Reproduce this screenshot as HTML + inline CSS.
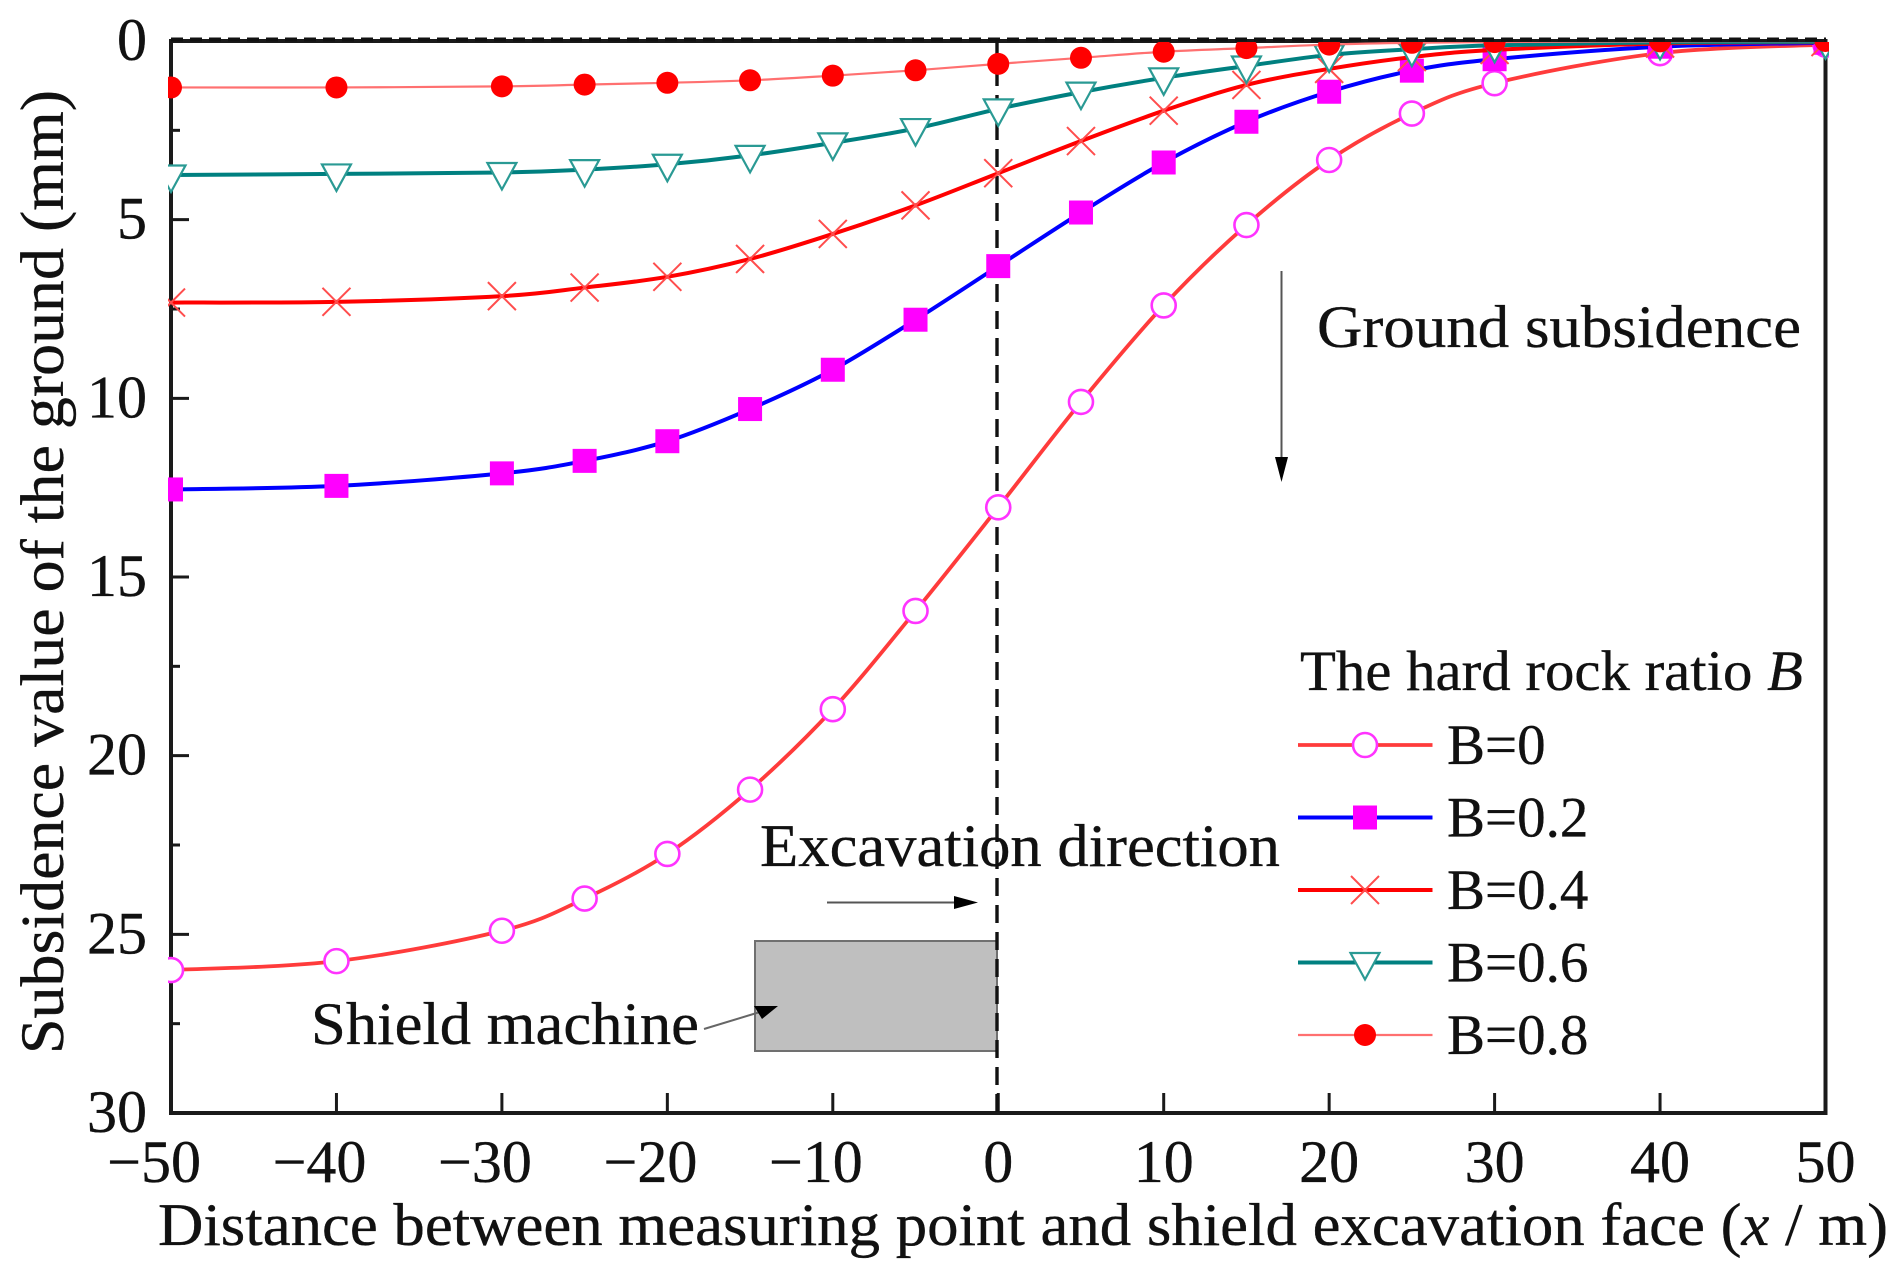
<!DOCTYPE html>
<html lang="en">
<head>
<meta charset="utf-8">
<title>Ground subsidence chart</title>
<style>
html,body{margin:0;padding:0;background:#fff;}
body{width:1897px;height:1277px;overflow:hidden;}
svg{display:block;}
text{font-family:"Liberation Serif",serif;fill:#111;stroke:#111;stroke-width:0.35px;}
</style>
</head>
<body>
<svg id="chart" xmlns="http://www.w3.org/2000/svg" width="1897" height="1277" viewBox="0 0 1897 1277">
  <defs>
    <clipPath id="plot-clip"><rect x="168" y="42" width="1661" height="1071"/></clipPath>
  </defs>
  <rect x="0" y="0" width="1897" height="1277" fill="#fff"/>
  <g id="axes"></g>
  <rect x="755" y="941" width="242" height="110" fill="#bfbfbf" stroke="#707070" stroke-width="2"/>
  <line x1="171" y1="39.5" x2="1826" y2="39.5" stroke="#111" stroke-width="4" stroke-dasharray="12 7"/>
  <line x1="997" y1="41" x2="997" y2="1113" stroke="#111" stroke-width="3.4" stroke-dasharray="18 9"/>
  <g id="series" clip-path="url(#plot-clip)"></g>
  <text transform="translate(63,1054) rotate(-90)" font-size="61" textLength="964" lengthAdjust="spacingAndGlyphs">Subsidence value of the ground (mm)</text>
  <text x="158" y="1245" font-size="60" textLength="1730" lengthAdjust="spacingAndGlyphs">Distance between measuring point and shield excavation face (<tspan font-style="italic">x</tspan> / m)</text>
  <text x="1317" y="347" font-size="60" textLength="484" lengthAdjust="spacingAndGlyphs">Ground subsidence</text>
  <line x1="1281.5" y1="271" x2="1281.5" y2="460" stroke="#555" stroke-width="2"/>
  <polygon points="1275,457 1288,457 1281.5,482" fill="#000"/>
  <text x="760" y="866" font-size="60" textLength="520" lengthAdjust="spacingAndGlyphs">Excavation direction</text>
  <line x1="827" y1="902.5" x2="960" y2="902.5" stroke="#555" stroke-width="2"/>
  <polygon points="954,896 978,902.5 954,909" fill="#000"/>
  <text x="311" y="1044" font-size="60" textLength="388" lengthAdjust="spacingAndGlyphs">Shield machine</text>
  <line x1="704" y1="1029" x2="760" y2="1012" stroke="#666" stroke-width="2"/>
  <polygon points="754,1006 778,1006 762,1019" fill="#000"/>
  <text x="1300" y="690" font-size="57" textLength="503" lengthAdjust="spacingAndGlyphs">The hard rock ratio <tspan font-style="italic">B</tspan></text>
  <g id="legend"></g>
</svg>
<script>
const distances = [-50,-40,-30,-25,-20,-15,-10,-5,0,5,10,15,20,25,30,40,50];
const seriesB0 = [26.0,25.75,24.9,24.0,22.75,20.95,18.7,15.95,13.05,10.1,7.4,5.15,3.33,2.03,1.18,0.34,0.1];
const seriesB02 = [12.55,12.45,12.1,11.75,11.2,10.3,9.2,7.8,6.3,4.8,3.4,2.26,1.42,0.83,0.51,0.16,0.05];
const seriesB04 = [7.32,7.3,7.14,6.9,6.6,6.1,5.4,4.6,3.7,2.8,1.95,1.23,0.78,0.45,0.25,0.07,0.03];
const seriesB06 = [3.75,3.72,3.68,3.6,3.45,3.2,2.85,2.45,1.9,1.43,1.03,0.7,0.39,0.23,0.12,0.04,0.02];
const seriesB08 = [1.3,1.3,1.27,1.22,1.17,1.1,0.97,0.82,0.64,0.47,0.3,0.2,0.1,0.05,0.03,0.01,0];
const seriesLabels = ['B=0','B=0.2','B=0.4','B=0.6','B=0.8'];
const xTicks = [-50,-40,-30,-20,-10,0,10,20,30,40,50];
const xTickLabels = ['\u221250','\u221240','\u221230','\u221220','\u221210','0','10','20','30','40','50'];
const yTicks = [0,5,10,15,20,25,30];
const yTickLabels = ['0','5','10','15','20','25','30'];
const yMinorTicks = [2.5,7.5,12.5,17.5,22.5,27.5];

const NS = 'http://www.w3.org/2000/svg';
const PLOT = {left:171, right:1825.5, top:41, bottom:1113, xMin:-50, xMax:50, yMin:0, yMax:30};
function xScale(v){ return PLOT.left + (v - PLOT.xMin) * (PLOT.right - PLOT.left) / (PLOT.xMax - PLOT.xMin); }
function yScale(v){ return PLOT.top + (v - PLOT.yMin) * (PLOT.bottom - PLOT.top) / (PLOT.yMax - PLOT.yMin); }
function make(tag, attrs, parent){
  const n = document.createElementNS(NS, tag);
  for (const k in attrs) n.setAttribute(k, attrs[k]);
  parent.appendChild(n);
  return n;
}
function smoothPath(pts){
  let d = 'M' + pts[0][0] + ' ' + pts[0][1];
  for (let i = 0; i < pts.length - 1; i++){
    const p0 = pts[Math.max(i-1,0)], p1 = pts[i], p2 = pts[i+1], p3 = pts[Math.min(i+2,pts.length-1)];
    const c1x = p1[0] + (p2[0]-p0[0])/6, c1y = p1[1] + (p2[1]-p0[1])/6;
    const c2x = p2[0] - (p3[0]-p1[0])/6, c2y = p2[1] - (p3[1]-p1[1])/6;
    d += 'C' + c1x + ' ' + c1y + ' ' + c2x + ' ' + c2y + ' ' + p2[0] + ' ' + p2[1];
  }
  return d;
}
function drawMarker(kind, cx, cy, parent){
  if (kind === 'circle'){
    return make('circle', {cx:cx, cy:cy, r:12, fill:'#fff', stroke:'#ff33ff', 'stroke-width':2.6}, parent);
  }
  if (kind === 'square'){
    return make('rect', {x:cx-12, y:cy-12, width:24, height:24, fill:'#ff00ff'}, parent);
  }
  if (kind === 'cross'){
    return make('path', {d:'M'+(cx-14)+' '+(cy-14)+'L'+(cx+14)+' '+(cy+14)+'M'+(cx-14)+' '+(cy+14)+'L'+(cx+14)+' '+(cy-14), fill:'none', stroke:'#ff4d4d', 'stroke-width':2}, parent);
  }
  if (kind === 'triangle'){
    return make('polygon', {points:(cx-14.5)+','+(cy-9.5)+' '+(cx+14.5)+','+(cy-9.5)+' '+cx+','+(cy+17), fill:'#fff', stroke:'#2a9a94', 'stroke-width':2.2}, parent);
  }
  return make('circle', {cx:cx, cy:cy, r:11, fill:'#ff0000'}, parent);
}

const axes = document.getElementById('axes');
const frame = make('rect', {x:PLOT.left, y:PLOT.top, width:PLOT.right-PLOT.left, height:PLOT.bottom-PLOT.top, fill:'none', stroke:'#1a1a1a', 'stroke-width':4}, axes);



xTicks.forEach(function(v, i){
  const x = xScale(v);
  const tick = make('line', {x1:x, x2:x, y1:PLOT.bottom, y2:PLOT.bottom-20, stroke:'#1a1a1a', 'stroke-width':3}, axes);
  
  
  const neg = xTickLabels[i].charAt(0) === '\u2212';
  const label = make('text', {x: neg ? x + 30 : x, y:1182, 'font-size':60, 'text-anchor': neg ? 'end' : 'middle'}, axes);
  label.textContent = xTickLabels[i];
  
  
});
yTicks.forEach(function(v, i){
  const y = yScale(v);
  const tick = make('line', {x1:PLOT.left, x2:PLOT.left+18, y1:y, y2:y, stroke:'#1a1a1a', 'stroke-width':3}, axes);
  
  
  const label = make('text', {x:147, y:y+19, 'font-size':60, 'text-anchor':'end'}, axes);
  label.textContent = yTickLabels[i];
  
  
});
yMinorTicks.forEach(function(v){
  const y = yScale(v);
  const tick = make('line', {x1:PLOT.left, x2:PLOT.left+9, y1:y, y2:y, stroke:'#1a1a1a', 'stroke-width':3}, axes);
  
  
});

const seriesValues = [seriesB0, seriesB02, seriesB04, seriesB06, seriesB08];
const seriesColors = ['#ff3b3b','#0000ff','#ff0000','#008080','#ff7070'];
const seriesWidths = [3.8,4,4,4,2.2];
const seriesMarkers = ['circle','square','cross','triangle','dot'];
const seriesGroup = document.getElementById('series');
seriesValues.forEach(function(vals, s){
  const pts = vals.map(function(v, i){ return [xScale(distances[i]), yScale(v)]; });
  const line = make('path', {d:smoothPath(pts), fill:'none', stroke:seriesColors[s], 'stroke-width':seriesWidths[s]}, seriesGroup);
  
  
  pts.forEach(function(p){
    const m = drawMarker(seriesMarkers[s], p[0], p[1], seriesGroup);
    
    
  });
});

const legend = document.getElementById('legend');
const legendRowY = [745,817.5,890,962.5,1035];
seriesLabels.forEach(function(lab, s){
  const ly = legendRowY[s];
  const line = make('line', {x1:1298, x2:1432.5, y1:ly, y2:ly, stroke:seriesColors[s], 'stroke-width':seriesWidths[s]}, legend);
  
  
  const m = drawMarker(seriesMarkers[s], 1365, ly, legend);
  
  
  const t = make('text', {x:1447, y:ly+19, 'font-size':57}, legend);
  t.textContent = lab;
  
  
});
</script>
</body>
</html>
